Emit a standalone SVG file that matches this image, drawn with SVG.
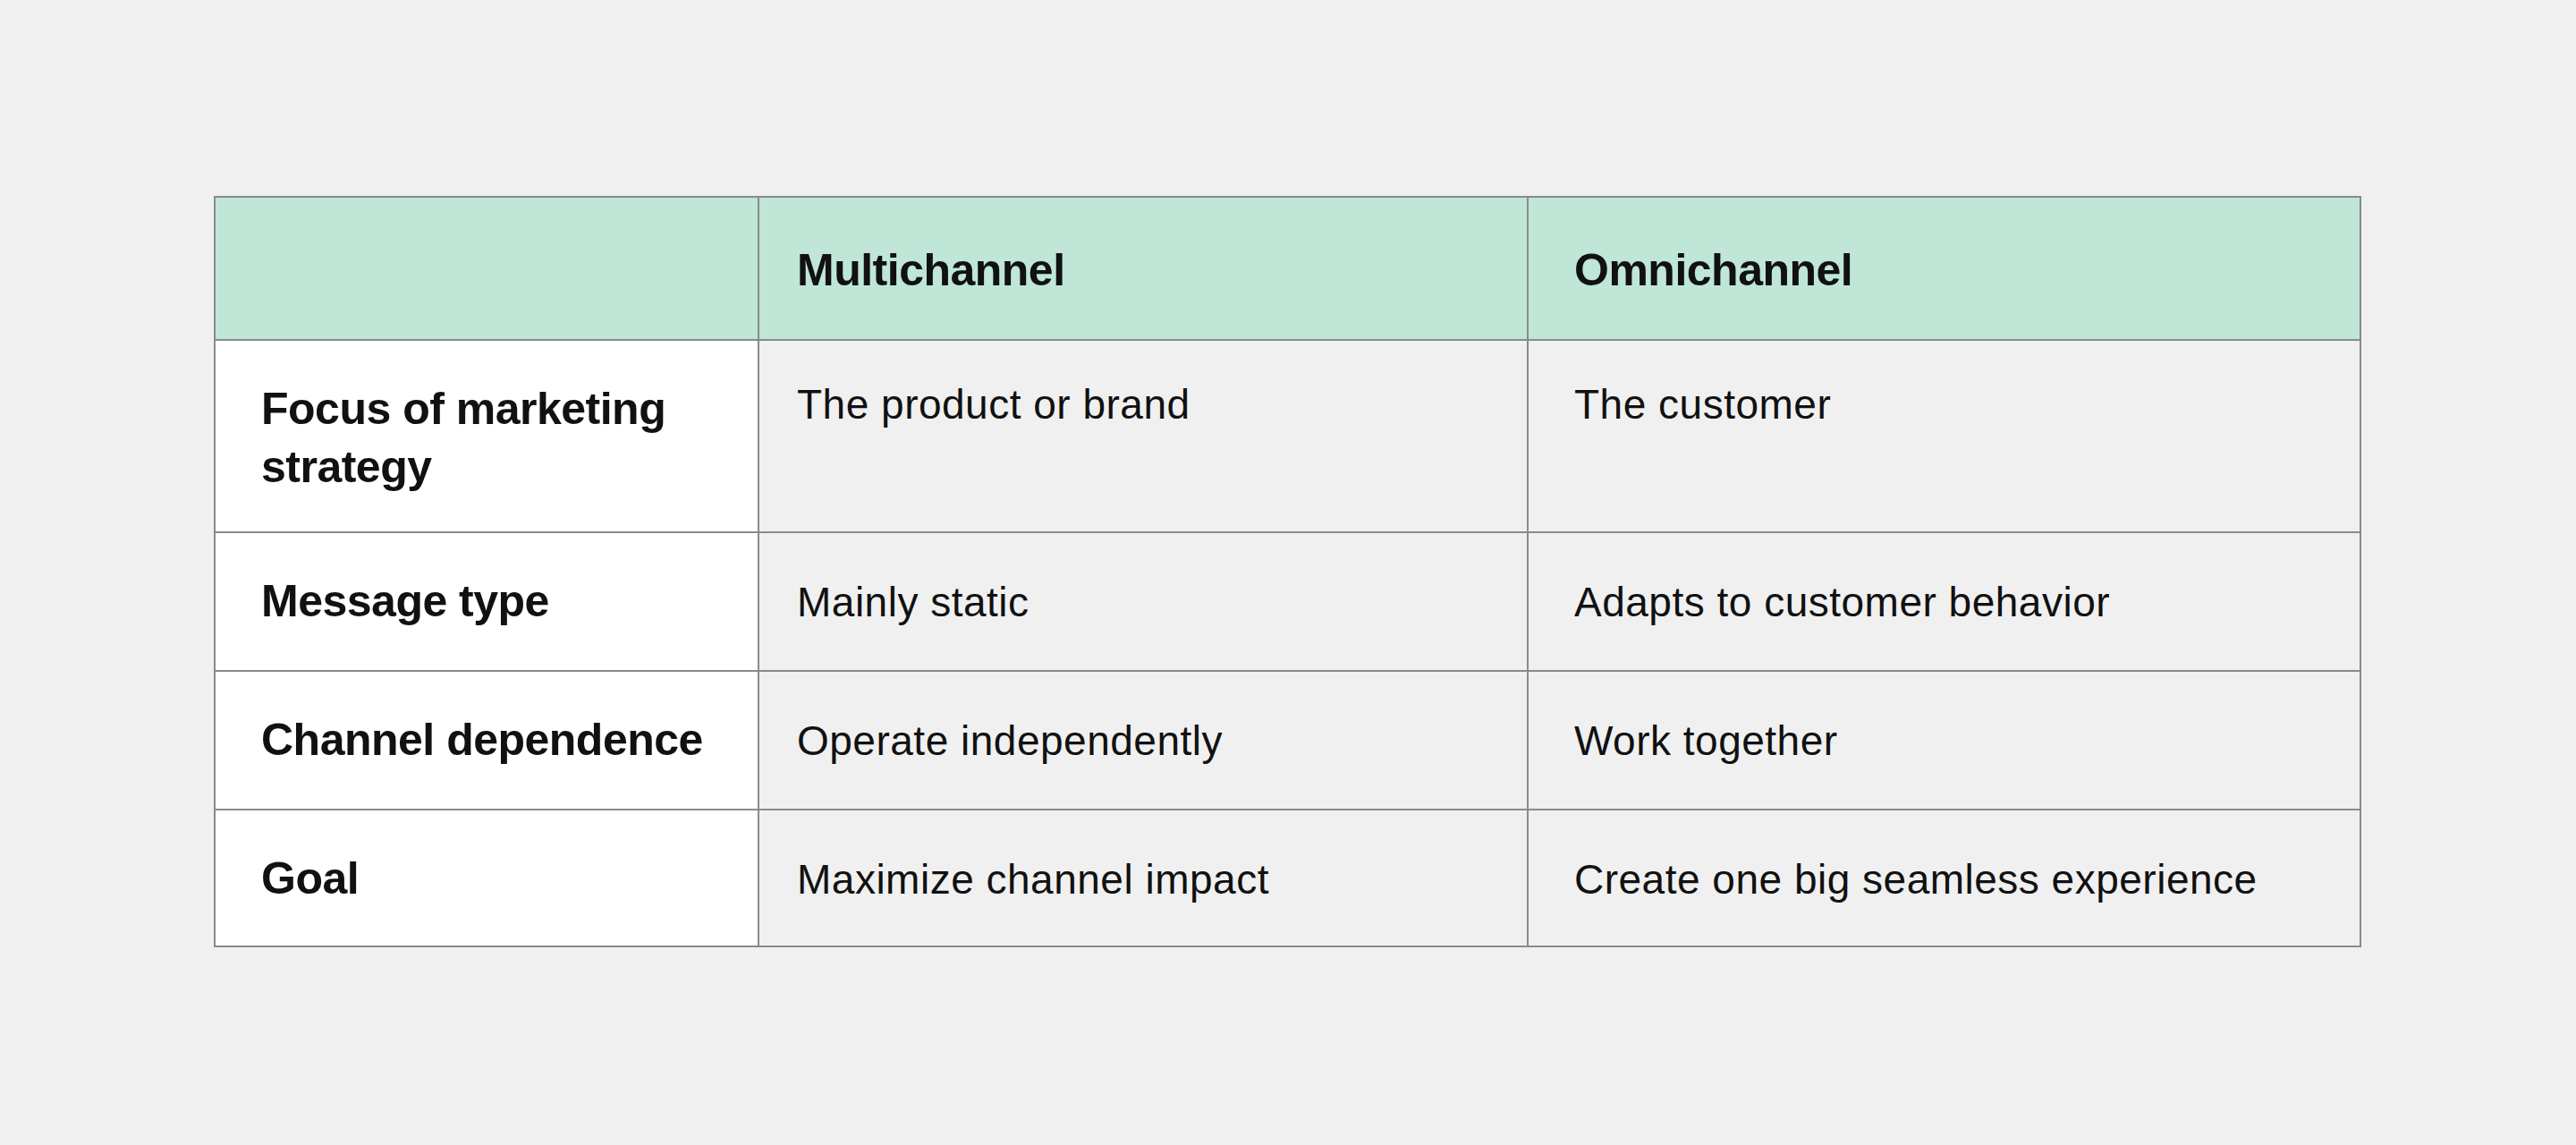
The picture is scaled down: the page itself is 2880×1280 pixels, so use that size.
<svg xmlns="http://www.w3.org/2000/svg" width="2880" height="1280" viewBox="0 0 2880 1280">
<style>
.h{font-family:"Liberation Sans",Arial,sans-serif;font-weight:bold;font-size:50px;fill:#111;letter-spacing:-0.5px}
.b{font-family:"Liberation Sans",Arial,sans-serif;font-size:46px;fill:#111;letter-spacing:0.5px}
.ln{stroke:#8a8a8a;stroke-width:2;fill:none}
</style>
<rect width="2880" height="1280" fill="#f0f0f0"/>
<g id="table">
<rect x="240" y="220" width="2399" height="160" fill="#bfe6d6"/>
<rect x="240" y="380" width="608" height="678" fill="#ffffff"/>
</g>
<g id="grid">
<rect class="ln" x="240" y="220" width="2399" height="838"/>
<line class="ln" x1="848" y1="220" x2="848" y2="1058"/>
<line class="ln" x1="1708" y1="220" x2="1708" y2="1058"/>
<line class="ln" x1="240" y1="380" x2="2639" y2="380"/>
<line class="ln" x1="240" y1="595" x2="2639" y2="595"/>
<line class="ln" x1="240" y1="750" x2="2639" y2="750"/>
<line class="ln" x1="240" y1="905" x2="2639" y2="905"/>
</g>
<g id="header">
<text class="h" x="891" y="319">Multichannel</text>
<text class="h" x="1760" y="319">Omnichannel</text>
</g>
<g id="row1">
<text class="h" x="292" y="474">Focus of marketing</text>
<text class="h" x="292" y="539">strategy</text>
<text class="b" x="891" y="468">The product or brand</text>
<text class="b" x="1760" y="468">The customer</text>
</g>
<g id="row2">
<text class="h" x="292" y="689">Message type</text>
<text class="b" x="891" y="689">Mainly static</text>
<text class="b" x="1760" y="689">Adapts to customer behavior</text>
</g>
<g id="row3">
<text class="h" x="292" y="844">Channel dependence</text>
<text class="b" x="891" y="844">Operate independently</text>
<text class="b" x="1760" y="844">Work together</text>
</g>
<g id="row4">
<text class="h" x="292" y="999">Goal</text>
<text class="b" x="891" y="999">Maximize channel impact</text>
<text class="b" x="1760" y="999">Create one big seamless experience</text>
</g>
</svg>
